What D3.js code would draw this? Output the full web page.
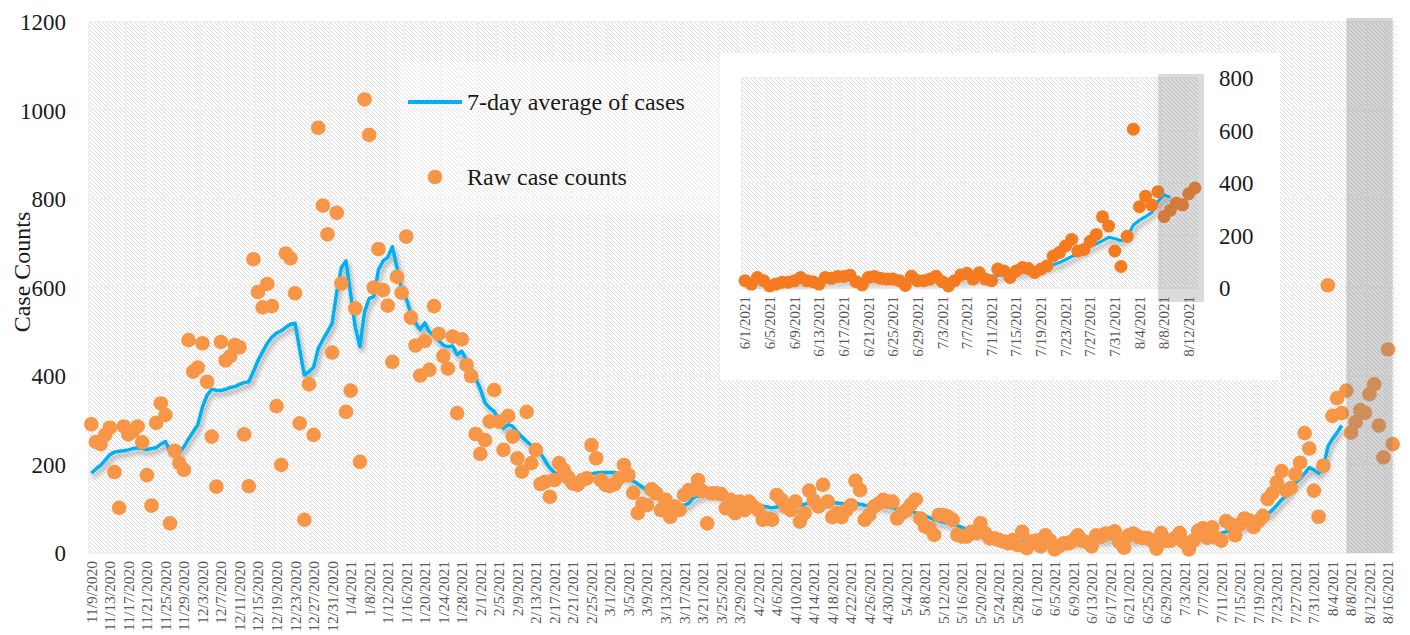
<!DOCTYPE html>
<html>
<head>
<meta charset="utf-8">
<script src="https://cdn.jsdelivr.net/npm/d3@7"></script>
<style>
body { margin: 0; background: #fff; }
svg { display: block; }
text { font-family: "Liberation Serif", "DejaVu Serif", serif; }
</style>
</head>
<body>
<div id="chart"></div>
<script>
// daily categories 11/9/2020 .. 8/17/2021
var firstDay = new Date(2020, 10, 9), lastDay = new Date(2021, 7, 17);
var days = d3.timeDay.range(firstDay, d3.timeDay.offset(lastDay, 1));

var rawCases = [
	291,251,246,267,283,183,102,286,268,275,286,250,176,107,294,338,312,67,231,203,
	188,481,410,419,474,387,263,150,477,435,445,470,465,268,151,664,590,555,608,558,
	332,199,677,666,587,293,75,381,267,961,785,720,453,769,609,319,367,553,206,1025,
	945,600,687,594,559,432,624,588,715,532,469,401,479,414,558,495,445,417,489,316,
	483,425,400,269,224,255,297,368,297,233,310,263,214,184,319,203,233,156,161,127,
	165,203,188,171,157,154,165,169,244,214,165,154,151,156,169,199,176,136,90,111,
	108,144,135,97,120,82,105,97,131,142,142,165,140,67,135,135,133,101,120,90,
	116,97,116,105,97,75,78,75,131,120,105,97,116,71,90,141,118,105,154,116,
	81,90,81,97,108,163,142,75,86,105,112,120,116,116,78,90,97,110,121,78,
	60,56,41,86,86,82,75,41,37,37,48,45,67,45,33,33,29,26,22,29,
	18,48,11,26,28,15,40,28,8,15,22,22,28,40,28,24,15,40,37,44,
	44,49,24,12,40,44,37,34,34,28,10,45,28,28,34,45,24,8,28,50,
	56,34,58,34,28,72,65,40,65,78,74,59,72,84,122,135,160,185,141,147,
	178,204,271,236,141,82,197,605,310,350,316,367,272,296,323,317,359,381,288,216,
	460,246
];

// 7-day average, 11/9/2020 .. 8/9/2021
var avgCases = [
	180,190,198,210,222,228,230,231,233,236,238,236,234,236,238,246,252,230,224,226,
	240,258,274,290,330,357,370,368,367,370,374,376,381,385,387,410,435,455,474,488,
	497,502,510,517,519,460,402,410,420,462,482,500,519,590,645,660,585,510,466,545,
	575,580,640,660,668,692,645,595,575,540,520,505,520,500,490,480,470,466,468,448,
	456,436,418,395,370,340,328,320,300,282,290,286,272,262,252,243,234,225,208,192,
	182,175,168,166,166,168,171,175,179,181,182,182,182,182,179,175,168,163,156,149,
	142,135,128,121,117,113,109,106,108,112,125,129,131,133,133,132,131,128,125,122,
	120,118,116,114,110,106,104,102,104,106,108,108,109,108,110,114,116,116,117,116,
	114,113,112,111,112,113,110,108,107,107,108,106,104,102,99,97,95,93,91,88,
	84,80,76,72,70,68,65,62,58,54,50,47,44,41,38,35,33,31,30,29,
	28,27,26,25,25,24,24,23,22,22,23,24,25,26,27,28,29,30,31,32,
	33,33,32,31,31,31,32,33,33,32,31,31,30,30,30,31,32,33,34,35,
	37,38,40,42,45,48,52,56,58,62,65,68,74,80,88,97,108,120,130,143,
	158,168,180,193,188,180,192,240,258,272,288,330,355,345
];

var yTicks = [0, 200, 400, 600, 800, 1000, 1200];
var insetTicks = [0, 200, 400, 600, 800];
var insetFirst = new Date(2021, 5, 1), insetLast = new Date(2021, 7, 13);
var partialFrom = new Date(2021, 7, 7);   // shaded, counts still coming in
var mainAvgLast = new Date(2021, 7, 6);

var fmt = d3.timeFormat("%-m/%-d/%Y");
var keys = days.map(fmt);
var rows = days.map(function(d, i) {
	return {key: keys[i], day: d, raw: rawCases[i], avg: avgCases[i]};
});

var width = 1410, height = 635;
var svg = d3.select("#chart").append("svg")
	.attr("width", width)
	.attr("height", height);

var defs = svg.append("defs");
var pat = defs.append("pattern")
	.attr("id", "hatch")
	.attr("patternUnits", "userSpaceOnUse")
	.attr("width", 4).attr("height", 4);
pat.append("rect").attr("width", 4).attr("height", 4).attr("fill", "#fff");
pat.append("path")
	.attr("d", "M-1,-1L5,5M-1,3L1,5M3,-1L5,1")
	.attr("stroke", "#d9d9d9")
	.attr("stroke-width", 1);

defs.append("filter").attr("id", "shadow")
	.attr("x", "-5%").attr("y", "-10%").attr("width", "115%").attr("height", "130%")
	.append("feDropShadow")
	.attr("dx", 2).attr("dy", 4).attr("stdDeviation", 2.5)
	.attr("flood-color", "#000").attr("flood-opacity", 0.35);

// ---------------- main chart
var x = d3.scaleBand().domain(keys).range([89, 1395]);
var y = d3.scaleLinear().domain([0, 1200]).range([553, 22]);
var cx = function(k) { return x(k) + x.bandwidth() / 2; };

svg.append("rect")
	.attr("x", 89).attr("y", 22)
	.attr("width", 1395 - 89).attr("height", 553 - 22)
	.attr("fill", "url(#hatch)");

var grid = svg.append("g").attr("stroke", "#f0f0f0").attr("stroke-width", 2);
keys.forEach(function(k, i) {
	if (i % 4 == 0) grid.append("line").attr("x1", x(k)).attr("x2", x(k)).attr("y1", 22).attr("y2", 553);
});
yTicks.forEach(function(t) {
	grid.append("line").attr("x1", 89).attr("x2", 1395).attr("y1", y(t)).attr("y2", y(t));
});

// legend backing
svg.append("rect")
	.attr("x", 400).attr("y", 62).attr("width", 320).attr("height", 152)
	.attr("fill", "#fff").attr("opacity", 0.35);

var line = d3.line()
	.x(function(d) { return cx(d.key); })
	.y(function(d) { return y(d.avg); });

svg.append("path")
	.datum(rows.filter(function(d) { return d.day <= mainAvgLast; }))
	.attr("d", line)
	.attr("fill", "none")
	.attr("stroke", "#00b0f0")
	.attr("stroke-width", 3.5)
	.attr("stroke-linejoin", "round")
	.attr("filter", "url(#shadow)");

svg.append("g").selectAll("circle")
	.data(rows).enter().append("circle")
	.attr("cx", function(d) { return cx(d.key); })
	.attr("cy", function(d) { return y(d.raw); })
	.attr("r", 7.3)
	.attr("fill", "#f79646");

svg.append("rect")
	.attr("x", cx(fmt(partialFrom)))
	.attr("y", 18)
	.attr("width", cx(keys[keys.length - 1]) - cx(fmt(partialFrom)))
	.attr("height", 553 - 18)
	.attr("fill", "#7f7f7f").attr("opacity", 0.33);

svg.append("g").selectAll("text")
	.data(yTicks).enter().append("text")
	.attr("x", 66).attr("y", function(d) { return y(d); })
	.attr("dy", ".35em")
	.attr("text-anchor", "end")
	.style("font-size", "23px")
	.attr("fill", "#1a1a1a")
	.text(function(d) { return d; });

svg.append("g").selectAll("text")
	.data(keys.filter(function(k, i) { return i % 4 == 0; }))
	.enter().append("text")
	.attr("transform", function(d) { return "translate(" + cx(d) + ",561) rotate(-90)"; })
	.attr("dy", ".35em")
	.attr("text-anchor", "end")
	.style("font-size", "15.5px")
	.attr("fill", "#595959")
	.text(function(d) { return d; });

svg.append("text")
	.attr("transform", "translate(30,272) rotate(-90)")
	.attr("text-anchor", "middle")
	.style("font-size", "24px")
	.attr("fill", "#1a1a1a")
	.text("Case Counts");

// legend
svg.append("line")
	.attr("x1", 408).attr("x2", 462).attr("y1", 102).attr("y2", 102)
	.attr("stroke", "#00b0f0").attr("stroke-width", 4);
svg.append("text")
	.attr("x", 467).attr("y", 102).attr("dy", ".35em")
	.style("font-size", "24px").attr("fill", "#1a1a1a")
	.text("7-day average of cases");
svg.append("circle")
	.attr("cx", 435).attr("cy", 177).attr("r", 7.3)
	.attr("fill", "#f79646");
svg.append("text")
	.attr("x", 467).attr("y", 177).attr("dy", ".35em")
	.style("font-size", "24px").attr("fill", "#1a1a1a")
	.text("Raw case counts");

// ---------------- inset: 6/1 .. 8/13
var inRows = rows.filter(function(d) { return d.day >= insetFirst && d.day <= insetLast; });
var ix = d3.scaleBand().domain(inRows.map(function(d) { return d.key; })).range([742, 1198]);
var iy = d3.scaleLinear().domain([0, 800]).range([288, 78]);
var icx = function(k) { return ix(k) + ix.bandwidth() / 2; };

svg.append("rect")
	.attr("x", 720).attr("y", 53).attr("width", 560).attr("height", 327)
	.attr("fill", "#fff");
svg.append("rect")
	.attr("x", 742).attr("y", 78).attr("width", 1198 - 742).attr("height", 288 - 78)
	.attr("fill", "url(#hatch)");

var igrid = svg.append("g").attr("stroke", "#f0f0f0").attr("stroke-width", 2);
inRows.forEach(function(d, i) {
	if (i % 4 == 0) igrid.append("line").attr("x1", ix(d.key)).attr("x2", ix(d.key)).attr("y1", 78).attr("y2", 288);
});
insetTicks.forEach(function(t) {
	igrid.append("line").attr("x1", 742).attr("x2", 1198).attr("y1", iy(t)).attr("y2", iy(t));
});

var iline = d3.line()
	.x(function(d) { return icx(d.key); })
	.y(function(d) { return iy(d.avg); });

svg.append("path")
	.datum(inRows.filter(function(d) { return d.avg != null; }))
	.attr("d", iline)
	.attr("fill", "none")
	.attr("stroke", "#00b0f0")
	.attr("stroke-width", 3)
	.attr("stroke-linejoin", "round")
	.attr("filter", "url(#shadow)");

svg.append("g").selectAll("circle")
	.data(inRows).enter().append("circle")
	.attr("cx", function(d) { return icx(d.key); })
	.attr("cy", function(d) { return iy(d.raw); })
	.attr("r", 6.5)
	.attr("fill", "#f47b20");

svg.append("rect")
	.attr("x", icx(fmt(partialFrom)))
	.attr("y", 74)
	.attr("width", 1204 - icx(fmt(partialFrom)))
	.attr("height", 302 - 74)
	.attr("fill", "#7f7f7f").attr("opacity", 0.28);

svg.append("g").selectAll("text")
	.data(insetTicks).enter().append("text")
	.attr("x", 1219).attr("y", function(d) { return iy(d); })
	.attr("dy", ".35em")
	.style("font-size", "23px")
	.attr("fill", "#1a1a1a")
	.text(function(d) { return d; });

svg.append("g").selectAll("text")
	.data(inRows.filter(function(d, i) { return i % 4 == 0; }))
	.enter().append("text")
	.attr("transform", function(d) { return "translate(" + icx(d.key) + ",296) rotate(-90)"; })
	.attr("dy", ".35em")
	.attr("text-anchor", "end")
	.style("font-size", "15px")
	.attr("fill", "#595959")
	.text(function(d) { return d.key; });
</script>
</body>
</html>
